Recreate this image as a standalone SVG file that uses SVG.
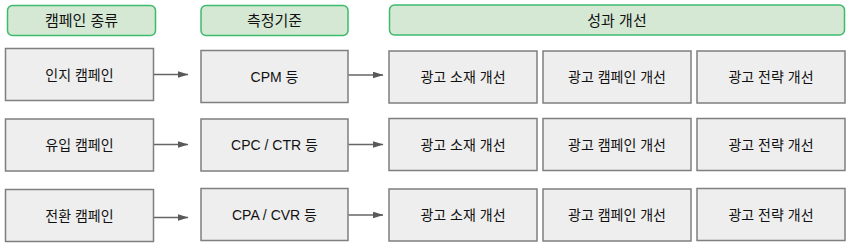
<svg xmlns="http://www.w3.org/2000/svg" width="850" height="246" viewBox="0 0 850 246">
<style>
.hdr{fill:#d5e8d4;stroke:#3dba6c;stroke-width:1.5}
.box{fill:#eeeeee;stroke:#7f7f7f;stroke-width:1.5}
text{font-family:"Liberation Sans","Noto Sans CJK KR",sans-serif;font-size:14px;fill:#111;text-anchor:middle;dominant-baseline:central}
.ht{font-size:15px}
.con{stroke:#666;stroke-width:1.3;fill:none;marker-end:url(#ah)}
</style>
<defs>
<marker id="ah" markerWidth="11" markerHeight="7" refX="10.5" refY="3.5" orient="auto" markerUnits="userSpaceOnUse">
<path d="M0,0 L11,3.5 L0,7 Z" fill="#595959"/>
</marker>
</defs>
<g id="h1"><rect class="hdr" x="7.5" y="5.5" width="148" height="30" rx="5"/><text class="ht" x="81.5" y="20.5">캠페인 종류</text></g>
<g id="h2"><rect class="hdr" x="201" y="5.5" width="147" height="30" rx="5"/><text class="ht" x="274.5" y="20.5">측정기준</text></g>
<g id="h3"><rect class="hdr" x="389.5" y="5" width="455" height="30" rx="5"/><text class="ht" x="617" y="20">성과 개선</text></g>

<g id="r1c1"><rect class="box" x="5.5" y="48.5" width="148" height="52"/><text x="79.5" y="74.5">인지 캠페인</text></g>
<g id="r1c2"><rect class="box" x="201" y="50.5" width="147" height="52"/><text x="274.5" y="76.5">CPM 등</text></g>
<g id="r1c3"><rect class="box" x="389" y="51" width="148" height="52"/><text x="463" y="77">광고 소재 개선</text></g>
<g id="r1c4"><rect class="box" x="543" y="51" width="148" height="52"/><text x="617" y="77">광고 캠페인 개선</text></g>
<g id="r1c5"><rect class="box" x="697" y="51" width="148" height="52"/><text x="771" y="77">광고 전략 개선</text></g>

<g id="r2c1"><rect class="box" x="5.5" y="119" width="148" height="52"/><text x="79.5" y="145">유입 캠페인</text></g>
<g id="r2c2"><rect class="box" x="201" y="119" width="147" height="52"/><text x="274.5" y="145">CPC / CTR 등</text></g>
<g id="r2c3"><rect class="box" x="389" y="118.5" width="148" height="52"/><text x="463" y="144.5">광고 소재 개선</text></g>
<g id="r2c4"><rect class="box" x="543" y="118.5" width="148" height="52"/><text x="617" y="144.5">광고 캠페인 개선</text></g>
<g id="r2c5"><rect class="box" x="697" y="118.5" width="148" height="52"/><text x="771" y="144.5">광고 전략 개선</text></g>

<g id="r3c1"><rect class="box" x="5.5" y="189.5" width="148" height="52"/><text x="79.5" y="215.5">전환 캠페인</text></g>
<g id="r3c2"><rect class="box" x="201" y="188.5" width="147" height="52"/><text x="274.5" y="214.5">CPA / CVR 등</text></g>
<g id="r3c3"><rect class="box" x="389" y="189" width="148" height="52"/><text x="463" y="215">광고 소재 개선</text></g>
<g id="r3c4"><rect class="box" x="543" y="189" width="148" height="52"/><text x="617" y="215">광고 캠페인 개선</text></g>
<g id="r3c5"><rect class="box" x="697" y="188.5" width="148" height="52"/><text x="771" y="214.5">광고 전략 개선</text></g>

<g id="connectors">
<line class="con" x1="154" y1="74.5" x2="188" y2="74.5"/>
<line class="con" x1="348.5" y1="75" x2="383" y2="75"/>
<line class="con" x1="154" y1="144.5" x2="188" y2="144.5"/>
<line class="con" x1="348.5" y1="144.5" x2="383" y2="144.5"/>
<line class="con" x1="154" y1="217.5" x2="188" y2="217.5"/>
<line class="con" x1="348.5" y1="215" x2="383" y2="215"/>
</g>
</svg>
